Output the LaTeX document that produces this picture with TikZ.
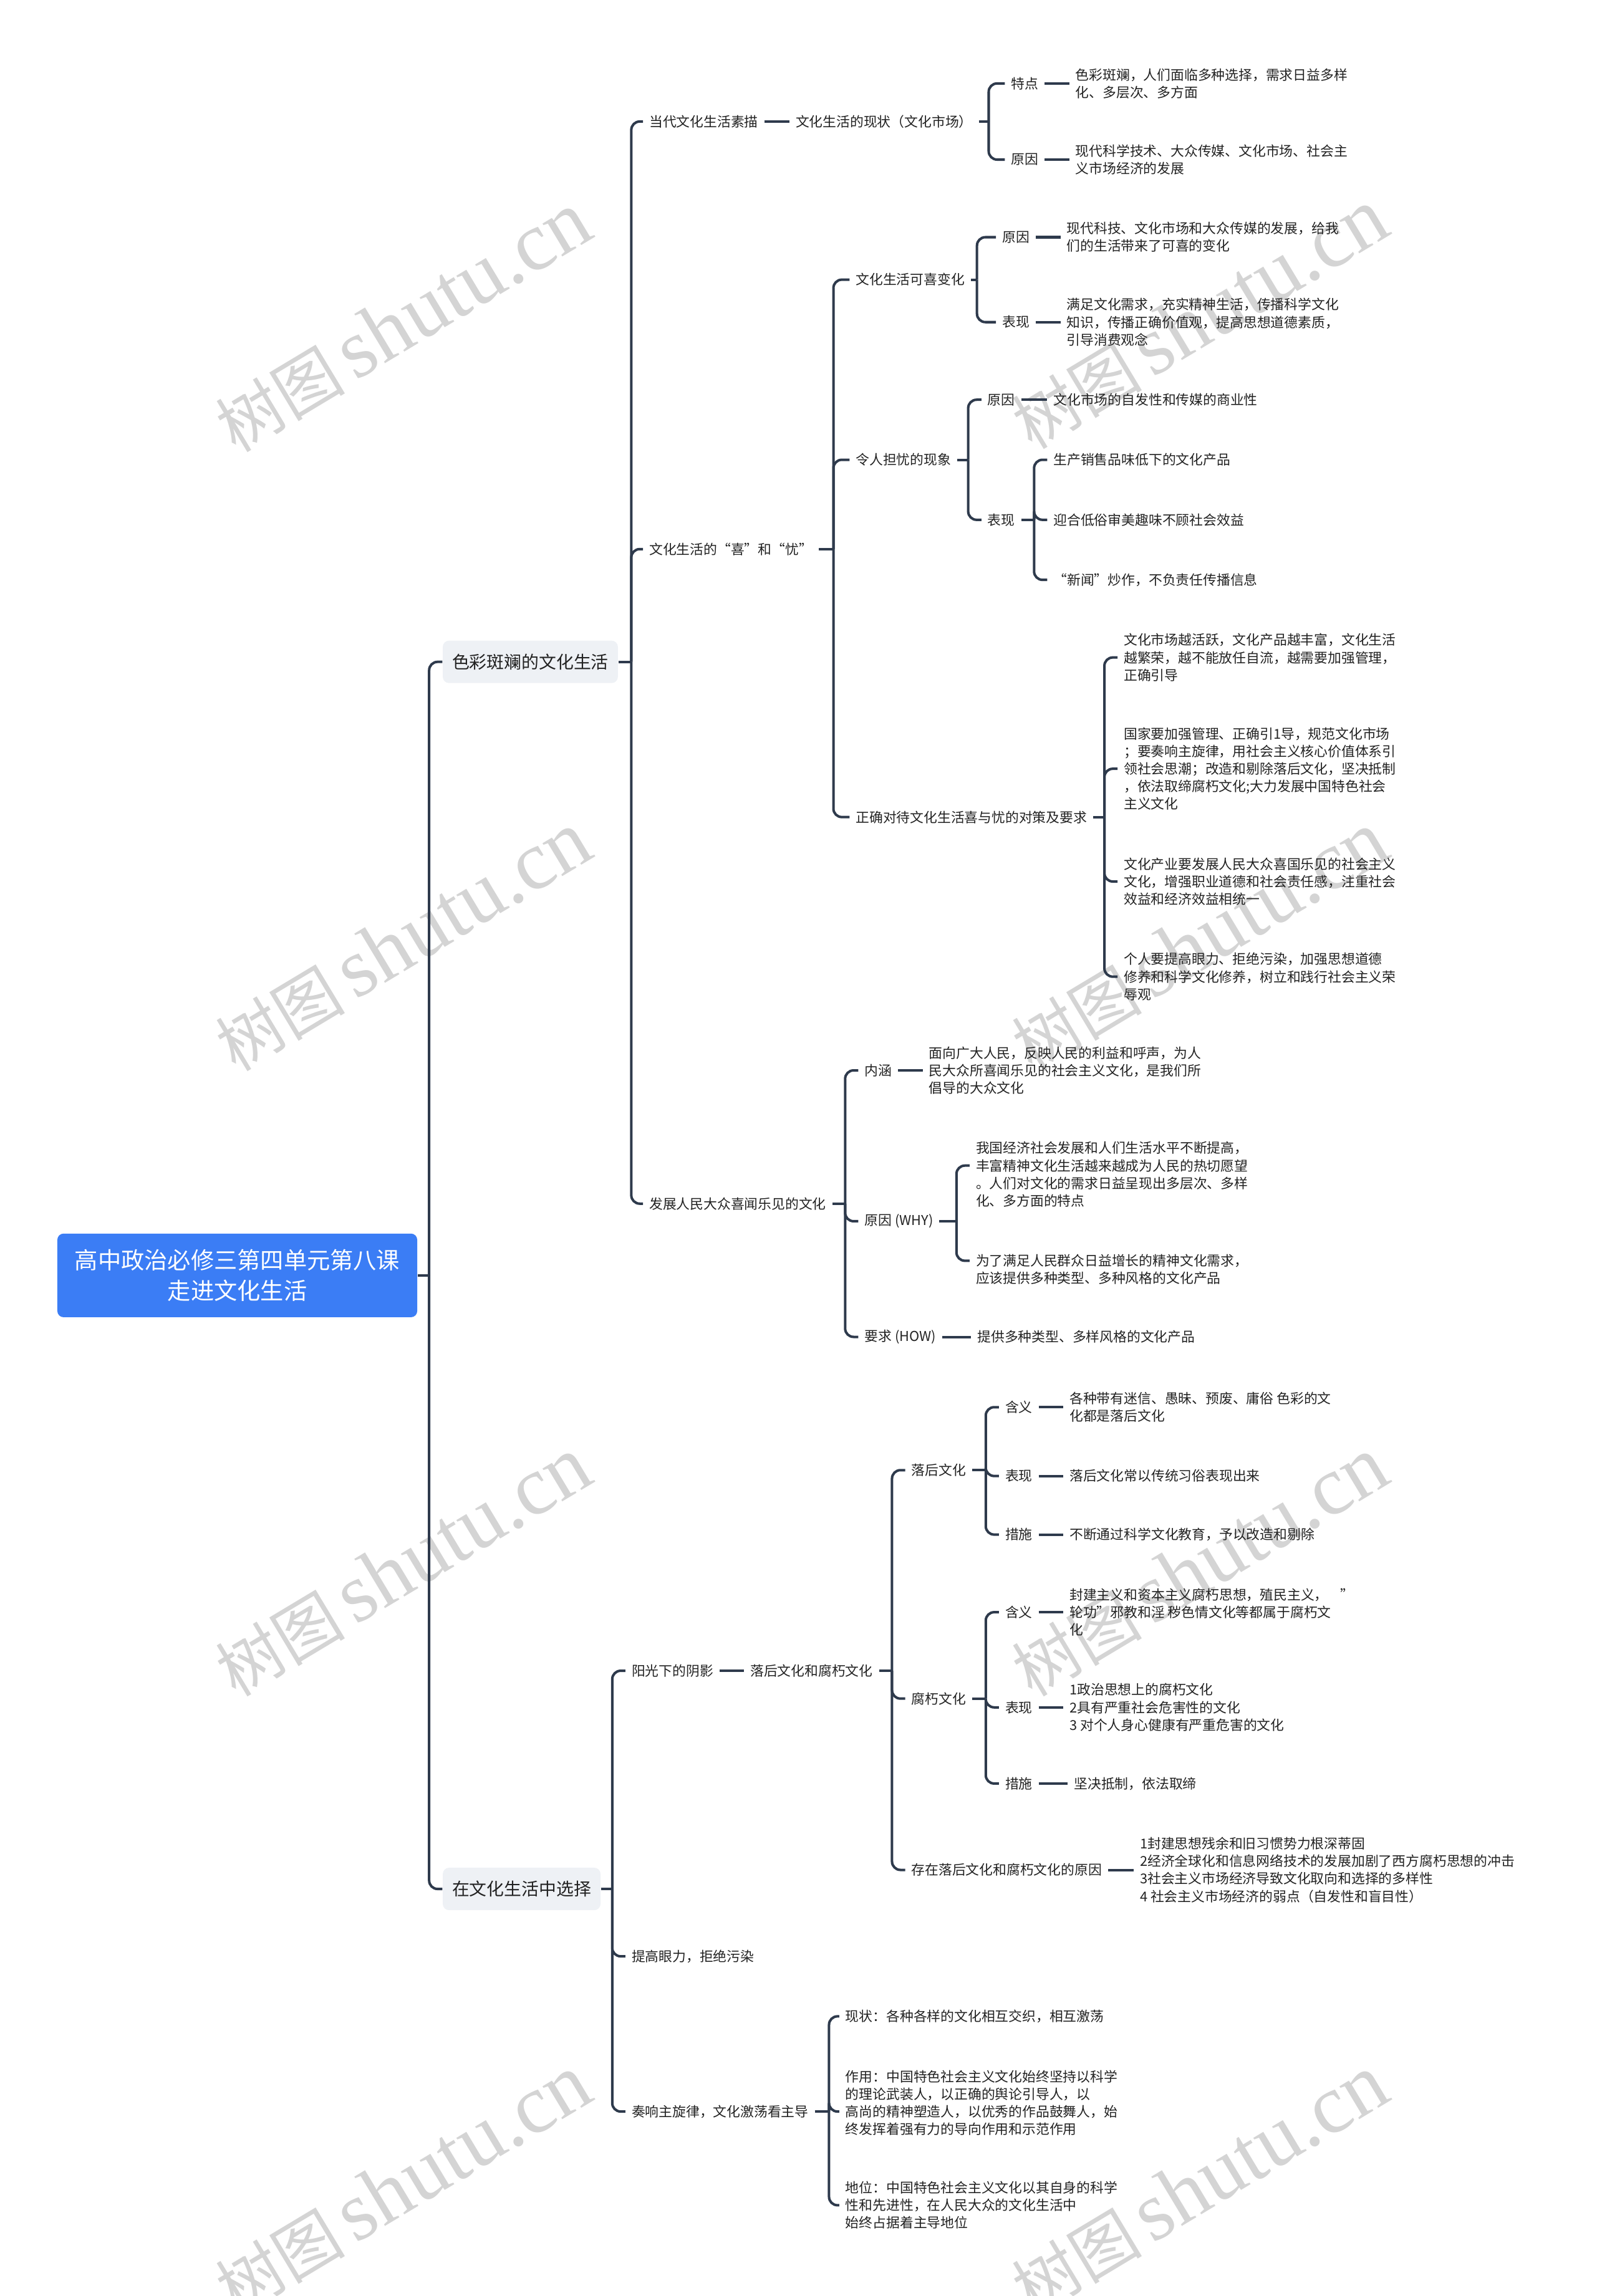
\documentclass[tikz,border=0pt]{standalone}
\usepackage{fontspec}
\setmainfont{Noto Sans CJK SC}
\newfontfamily\wmlatin{Liberation Serif}
\definecolor{lc}{HTML}{2E3A4C}
\definecolor{tc}{HTML}{222222}
\definecolor{rootc}{HTML}{3B7DF5}
\definecolor{boxc}{HTML}{EEF1F5}
\definecolor{wmc}{HTML}{D4D4D4}
\newcommand\mysmall{\fontsize{6.5pt}{8.4pt}\selectfont}
\newcommand\mymid{\fontsize{8.3pt}{10pt}\selectfont}
\newcommand\mybig{\fontsize{11.1pt}{14.7pt}\selectfont}
\newcommand\wmtext{{\fontsize{31pt}{31pt}\selectfont 树图}\hspace{5pt}{\wmlatin\fontsize{40pt}{40pt}\selectfont shutu.cn}}
\tikzset{
  ln/.style={draw=lc, line width=1.2pt, rounded corners=4pt},
  lf/.style={anchor=west, inner xsep=2.8pt, inner ysep=1pt, font=\mysmall, text=tc, align=left},
  l1box/.style={anchor=west, fill=boxc, rounded corners=3pt, inner xsep=4.5pt, inner ysep=0pt, minimum height=20.3pt, font=\mymid, text=tc},
  rootbox/.style={fill=rootc, text=white, rounded corners=3pt, minimum width=172pt, minimum height=40pt, inner sep=0pt, align=center, font=\mybig},
  wm/.style={rotate=31, text=wmc, inner sep=0pt}
}
\begin{document}
\begin{tikzpicture}[x=0.7pt, y=-0.7pt]
\useasboundingbox (0,0) rectangle (1090,1568);
% watermarks
\node[wm] (wm1) at (275,220) {\wmtext};
\node[wm] (wm2) at (819,218) {\wmtext};
\node[wm] (wm3) at (275,643) {\wmtext};
\node[wm] (wm4) at (819,643) {\wmtext};
\node[wm] (wm5) at (275,1070) {\wmtext};
\node[wm] (wm6) at (819,1070) {\wmtext};
\node[wm] (wm7) at (275,1492) {\wmtext};
\node[wm] (wm8) at (819,1492) {\wmtext};

% root and level 1
\node[rootbox] (root) at (162,871) {高中政治必修三第四单元第八课\\走进文化生活};
\node[l1box] (A) at (302,452) {色彩斑斓的文化生活};
\node[l1box] (B) at (302,1290) {在文化生活中选择};
\draw[ln] (root.east) -- (root.east -| 293,0) coordinate (rb);
\draw[ln] (rb) |- (A.west);
\draw[ln] (rb) |- (B.west);

% ---------- A ----------
\node[lf] (a1) at (439,83) {当代文化生活素描};
\node[lf] (a2) at (439,375) {文化生活的“喜”和“忧”};
\node[lf] (a3) at (439,822) {发展人民大众喜闻乐见的文化};
\draw[ln] (A.east) -- (A.east -| 431,0) coordinate (ab);
\draw[ln] (ab) |- (a1.west);
\draw[ln] (ab) |- (a2.west);
\draw[ln] (ab) |- (a3.west);

% a1
\node[lf] (a1x) at (539,83) {文化生活的现状（文化市场）};
\draw[ln] (a1.east) -- (a1.east -| a1x.west);
\node[lf] (a1t) at (686,57) {特点};
\node[lf] (a1tt) at (730,57) {色彩斑斓，人们面临多种选择，需求日益多样\\化、多层次、多方面};
\node[lf] (a1r) at (686,109) {原因};
\node[lf] (a1rt) at (730,109) {现代科学技术、大众传媒、文化市场、社会主\\义市场经济的发展};
\draw[ln] (a1x.east) -- (a1x.east -| 675,0) coordinate (a1xb);
\draw[ln] (a1xb) |- (a1t.west);
\draw[ln] (a1xb) |- (a1r.west);
\draw[ln] (a1t.east) -- (a1t.east -| a1tt.west);
\draw[ln] (a1r.east) -- (a1r.east -| a1rt.west);

% a2
\node[lf] (kx) at (580,191) {文化生活可喜变化};
\node[lf] (dy) at (580,314) {令人担忧的现象};
\node[lf] (zq) at (580,558) {正确对待文化生活喜与忧的对策及要求};
\draw[ln] (a2.east) -- (a2.east -| 569,0) coordinate (a2b);
\draw[ln] (a2b) |- (kx.west);
\draw[ln] (a2b) |- (dy.west);
\draw[ln] (a2b) |- (zq.west);

\node[lf] (kx1) at (680,162) {原因};
\node[lf] (kx1t) at (724,162) {现代科技、文化市场和大众传媒的发展，给我\\们的生活带来了可喜的变化};
\node[lf] (kx2) at (680,220) {表现};
\node[lf] (kx2t) at (724,220) {满足文化需求，充实精神生活，传播科学文化\\知识，传播正确价值观，提高思想道德素质，\\引导消费观念};
\draw[ln] (kx.east) -- (kx.east -| 667,0) coordinate (kxb);
\draw[ln] (kxb) |- (kx1.west);
\draw[ln] (kxb) |- (kx2.west);
\draw[ln] (kx1.east) -- (kx1.east -| kx1t.west);
\draw[ln] (kx2.east) -- (kx2.east -| kx2t.west);

\node[lf] (dy1) at (670,273) {原因};
\node[lf] (dy1t) at (715,273) {文化市场的自发性和传媒的商业性};
\node[lf] (dy2) at (670,355) {表现};
\node[lf] (dy2a) at (715,314) {生产销售品味低下的文化产品};
\node[lf] (dy2b) at (715,355) {迎合低俗审美趣味不顾社会效益};
\node[lf] (dy2c) at (715,396) {“新闻”炒作，不负责任传播信息};
\draw[ln] (dy.east) -- (dy.east -| 661,0) coordinate (dyb);
\draw[ln] (dyb) |- (dy1.west);
\draw[ln] (dyb) |- (dy2.west);
\draw[ln] (dy1.east) -- (dy1.east -| dy1t.west);
\draw[ln] (dy2.east) -- (dy2.east -| 706,0) coordinate (dy2bb);
\draw[ln] (dy2bb) |- (dy2a.west);
\draw[ln] (dy2bb) |- (dy2b.west);
\draw[ln] (dy2bb) |- (dy2c.west);

\node[lf] (zq1) at (763,449) {文化市场越活跃，文化产品越丰富，文化生活\\越繁荣，越不能放任自流，越需要加强管理，\\正确引导};
\node[lf] (zq2) at (763,525) {国家要加强管理、正确引1导，规范文化市场\\；要奏响主旋律，用社会主义核心价值体系引\\领社会思潮；改造和剔除落后文化，坚决抵制\\，依法取缔腐朽文化;大力发展中国特色社会\\主义文化};
\node[lf] (zq3) at (763,602) {文化产业要发展人民大众喜国乐见的社会主义\\文化，增强职业道德和社会责任感，注重社会\\效益和经济效益相统一};
\node[lf] (zq4) at (763,667) {个人要提高眼力、拒绝污染，加强思想道德\\修养和科学文化修养，树立和践行社会主义荣\\辱观};
\draw[ln] (zq.east) -- (zq.east -| 754,0) coordinate (zqb);
\draw[ln] (zqb) |- (zq1.west);
\draw[ln] (zqb) |- (zq2.west);
\draw[ln] (zqb) |- (zq3.west);
\draw[ln] (zqb) |- (zq4.west);

% a3
\node[lf] (nh) at (586,731) {内涵};
\node[lf] (nht) at (630,731) {面向广大人民，反映人民的利益和呼声，为人\\民大众所喜闻乐见的社会主义文化，是我们所\\倡导的大众文化};
\node[lf] (yy) at (586,834) {原因 (WHY)};
\node[lf] (yy1) at (662,802) {我国经济社会发展和人们生活水平不断提高，\\丰富精神文化生活越来越成为人民的热切愿望\\。人们对文化的需求日益呈现出多层次、多样\\化、多方面的特点};
\node[lf] (yy2) at (662,867) {为了满足人民群众日益增长的精神文化需求，\\应该提供多种类型、多种风格的文化产品};
\node[lf] (yq) at (586,913) {要求 (HOW)};
\node[lf] (yqt) at (663,913) {提供多种类型、多样风格的文化产品};
\draw[ln] (a3.east) -- (a3.east -| 577,0) coordinate (a3b);
\draw[ln] (a3b) |- (nh.west);
\draw[ln] (a3b) |- (yy.west);
\draw[ln] (a3b) |- (yq.west);
\draw[ln] (nh.east) -- (nh.east -| nht.west);
\draw[ln] (yq.east) -- (yq.east -| yqt.west);
\draw[ln] (yy.east) -- (yy.east -| 653,0) coordinate (yyb);
\draw[ln] (yyb) |- ([yshift=4.2pt]yy1.west);
\draw[ln] (yyb) |- ([yshift=4.2pt]yy2.west);

% ---------- B ----------
\node[lf] (b1) at (427,1141) {阳光下的阴影};
\node[lf] (b2) at (427,1336) {提高眼力，拒绝污染};
\node[lf] (b3) at (427,1442) {奏响主旋律，文化激荡看主导};
\draw[ln] (B.east) -- (B.east -| 418,0) coordinate (bb);
\draw[ln] (bb) |- (b1.west);
\draw[ln] (bb) |- (b2.west);
\draw[ln] (bb) |- (b3.west);

\node[lf] (b1x) at (508,1141) {落后文化和腐朽文化};
\draw[ln] (b1.east) -- (b1.east -| b1x.west);
\node[lf] (lh) at (618,1004) {落后文化};
\node[lf] (fx) at (618,1160) {腐朽文化};
\node[lf] (cz) at (618,1277) {存在落后文化和腐朽文化的原因};
\draw[ln] (b1x.east) -- (b1x.east -| 609,0) coordinate (b1xb);
\draw[ln] (b1xb) |- (lh.west);
\draw[ln] (b1xb) |- (fx.west);
\draw[ln] (b1xb) |- (cz.west);

\node[lf] (lh1) at (682,961) {含义};
\node[lf] (lh1t) at (726,961) {各种带有迷信、愚昧、预废、庸俗 色彩的文\\化都是落后文化};
\node[lf] (lh2) at (682,1008) {表现};
\node[lf] (lh2t) at (726,1008) {落后文化常以传统习俗表现出来};
\node[lf] (lh3) at (682,1048) {措施};
\node[lf] (lh3t) at (726,1048) {不断通过科学文化教育，予以改造和剔除};
\draw[ln] (lh.east) -- (lh.east -| 673,0) coordinate (lhb);
\draw[ln] (lhb) |- (lh1.west);
\draw[ln] (lhb) |- (lh2.west);
\draw[ln] (lhb) |- (lh3.west);
\draw[ln] (lh1.east) -- (lh1.east -| lh1t.west);
\draw[ln] (lh2.east) -- (lh2.east -| lh2t.west);
\draw[ln] (lh3.east) -- (lh3.east -| lh3t.west);

\node[lf] (fx1) at (682,1101) {含义};
\node[lf] (fx1t) at (726,1101) {封建主义和资本主义腐朽思想，殖民主义，\hspace{6pt}”\\轮功”邪教和淫 秽色情文化等都属于腐朽文\\化};
\node[lf] (fx2) at (682,1166) {表现};
\node[lf] (fx2t) at (726,1166) {1政治思想上的腐朽文化\\2具有严重社会危害性的文化\\3 对个人身心健康有严重危害的文化};
\node[lf] (fx3) at (682,1218) {措施};
\node[lf] (fx3t) at (729,1218) {坚决抵制，依法取缔};
\draw[ln] (fx.east) -- (fx.east -| 673,0) coordinate (fxb);
\draw[ln] (fxb) |- (fx1.west);
\draw[ln] (fxb) |- (fx2.west);
\draw[ln] (fxb) |- (fx3.west);
\draw[ln] (fx1.east) -- (fx1.east -| fx1t.west);
\draw[ln] (fx2.east) -- (fx2.east -| fx2t.west);
\draw[ln] (fx3.east) -- (fx3.east -| fx3t.west);

\node[lf] (czt) at (774,1277) {1封建思想残余和旧习惯势力根深蒂固\\2经济全球化和信息网络技术的发展加剧了西方腐朽思想的冲击\\3社会主义市场经济导致文化取向和选择的多样性\\4 社会主义市场经济的弱点（自发性和盲目性）};
\draw[ln] (cz.east) -- (cz.east -| czt.west);

\node[lf] (zx1) at (573,1377) {现状：各种各样的文化相互交织，相互激荡};
\node[lf] (zx2) at (573,1436) {作用：中国特色社会主义文化始终坚持以科学\\的理论武装人，以正确的舆论引导人，以\\高尚的精神塑造人，以优秀的作品鼓舞人，始\\终发挥着强有力的导向作用和示范作用};
\node[lf] (zx3) at (573,1506) {地位：中国特色社会主义文化以其自身的科学\\性和先进性，在人民大众的文化生活中\\始终占据着主导地位};
\draw[ln] (b3.east) -- (b3.east -| 566,0) coordinate (b3b);
\draw[ln] (b3b) |- (zx1.west);
\draw[ln] (b3b) |- ([yshift=-4.2pt]zx2.west);
\draw[ln] (b3b) |- (zx3.west);
\end{tikzpicture}
\end{document}
